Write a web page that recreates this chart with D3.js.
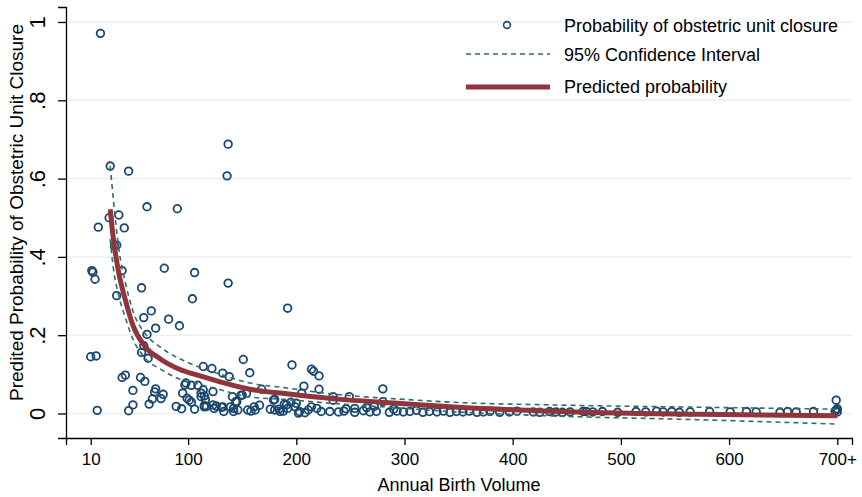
<!DOCTYPE html>
<html>
<head>
<meta charset="utf-8">
<script src="https://cdn.jsdelivr.net/npm/d3@7"></script>
<style>
    body { margin: 0; background: #fff; }
    text { font-family: Arial, "Liberation Sans", sans-serif; fill: #000; }
</style>
</head>
<body>
<div id="chart-area"></div>
<script>
// DATA
var xTicks = [10, 100, 200, 300, 400, 500, 600, 700];
var xTickLabels = ["10", "100", "200", "300", "400", "500", "600", "700+"];
var yTicks = [0, 0.2, 0.4, 0.6, 0.8, 1];
var yTickLabels = ["0", ".2", ".4", ".6", ".8", "1"];

// observed closures: birth volume / probability
var volume = [19, 28, 45, 62, 90, 136, 137, 27, 36, 17, 41, 34, 32, 11, 12, 14, 39, 78, 106, 137,
    57, 34, 104, 192, 66, 59, 82, 92, 70, 62, 59, 10, 15, 57, 63, 151, 196, 157, 214, 216,
    221, 114, 122, 132, 138, 39, 42, 56, 60, 98, 103, 109, 207, 221, 280, 49, 70, 69, 77, 75,
    67, 64, 49, 45, 16, 89, 94, 106, 95, 99, 103, 114, 115, 123, 117, 124, 133, 126, 132, 141,
    144, 150, 142, 155, 161, 166, 168, 176, 184, 180, 191, 195, 200, 202, 208, 188, 158, 112, 115, 97,
    101, 115, 131, 139, 145, 146, 149, 154, 162, 179, 180, 185, 189, 192, 199, 203, 211, 214, 219, 223,
    231, 234, 205, 249, 280, 234, 112, 116, 123, 142, 246, 254, 265, 272, 290,
    239, 244, 254, 262, 268, 274, 286, 293, 299, 305, 311, 317, 323, 330, 336, 342, 348, 354, 360, 367,
    373, 379, 388, 397, 404, 419, 425, 434, 440, 446, 453, 468,
    465, 474, 483, 497, 514, 523, 533, 539, 547, 554, 564, 582, 601, 616, 625, 647, 654, 662, 678,
    699, 699, 700, 700, 698];
var closure = [0.971, 0.632, 0.619, 0.528, 0.523, 0.607, 0.688, 0.500, 0.507, 0.476, 0.474, 0.430, 0.428, 0.365, 0.361, 0.343, 0.365, 0.371, 0.360, 0.333,
    0.321, 0.301, 0.293, 0.269, 0.262, 0.245, 0.241, 0.224, 0.218, 0.202, 0.173, 0.145, 0.147, 0.156, 0.141, 0.138, 0.124, 0.104, 0.113, 0.108,
    0.096, 0.120, 0.115, 0.103, 0.094, 0.092, 0.098, 0.092, 0.082, 0.078, 0.072, 0.072, 0.070, 0.062, 0.063, 0.059, 0.063, 0.055, 0.049, 0.038,
    0.037, 0.024, 0.022, 0.007, 0.008, 0.018, 0.012, 0.011, 0.052, 0.039, 0.029, 0.060, 0.045, 0.056, 0.018, 0.013, 0.005, 0.019, 0.017, 0.043,
    0.030, 0.047, 0.013, 0.009, 0.017, 0.021, 0.062, 0.011, 0.011, 0.036, 0.022, 0.029, 0.026, 0.001, 0.002, 0.006, 0.006, 0.052, 0.020, 0.073,
    0.034, 0.017, 0.016, 0.017, 0.030, 0.009, 0.047, 0.052, 0.009, 0.034, 0.009, 0.005, 0.024, 0.013, 0.017, 0.005, 0.009, 0.017, 0.013, 0.005,
    0.005, 0.034, 0.052, 0.043, 0.030, 0.043, 0.043, 0.036, 0.022, 0.005, 0.012, 0.013, 0.015, 0.018, 0.011,
    0.004, 0.006, 0.003, 0.007, 0.004, 0.005, 0.003, 0.006, 0.004, 0.005, 0.008, 0.003, 0.005, 0.004, 0.006, 0.003, 0.005, 0.004, 0.006, 0.003,
    0.004, 0.005, 0.003, 0.004, 0.006, 0.004, 0.003, 0.005, 0.004, 0.003, 0.004, 0.005,
    0.005, 0.004, 0.005, 0.003, 0.005, 0.004, 0.006, 0.004, 0.005, 0.003, 0.004, 0.005, 0.004, 0.005, 0.004, 0.003, 0.005, 0.004, 0.005,
    0.034, 0.009, 0.004, 0.012, 0.006];

// fitted curve and 95% CI
var fitVolume = [28, 31, 36, 42, 49, 60, 74, 92, 111, 128, 157, 189, 233, 300, 342, 434, 573, 700];
var predicted = [0.522, 0.445, 0.358, 0.290, 0.225, 0.172, 0.140, 0.113, 0.096, 0.082, 0.062, 0.051, 0.038, 0.025, 0.017, 0.006, -0.002, -0.006];
var ciUpper = [0.632, 0.545, 0.420, 0.335, 0.262, 0.205, 0.170, 0.140, 0.118, 0.102, 0.078, 0.066, 0.050, 0.036, 0.029, 0.022, 0.016, 0.011];
var ciLower = [0.445, 0.370, 0.300, 0.245, 0.190, 0.142, 0.114, 0.088, 0.074, 0.062, 0.042, 0.036, 0.026, 0.013, 0.005, -0.006, -0.016, -0.027];

var legendLabels = ["Probability of obstetric unit closure", "95% Confidence Interval", "Predicted probability"];

var navy = "#1a476f", maroon = "#90353b", teal = "#2f6e66", grid = "#eaf1f3";

// SIZES
var W = 862, H = 497;
var plot = { left: 66, right: 852, top: 7, bottom: 438 };

var svg = d3.select("#chart-area")
    .append("svg")
        .attr("width", W)
        .attr("height", H);

// SCALES
var x = d3.scaleLinear()
    .domain([-12.85, 713.6])
    .range([plot.left, plot.right]);

var y = d3.scaleLinear()
    .domain([-0.0626, 1.0383])
    .range([plot.bottom, plot.top]);

// GRIDLINES
svg.append("g").selectAll("line")
    .data(yTicks)
    .enter().append("line")
        .attr("x1", plot.left)
        .attr("x2", plot.right)
        .attr("y1", function(d) { return y(d); })
        .attr("y2", function(d) { return y(d); })
        .attr("stroke", grid)
        .attr("stroke-width", 1.5);

// X AXIS
var xAxisCall = d3.axisBottom(x)
    .tickValues(xTicks)
    .tickSizeOuter(0)
    .tickSize(7)
    .tickPadding(8)
    .tickFormat(function(d, i) { return xTickLabels[i]; });
var xAxis = svg.append("g")
    .attr("transform", "translate(0," + plot.bottom + ")")
    .call(xAxisCall);
xAxis.select(".domain").attr("stroke-width", 1.3);
xAxis.selectAll("line").attr("stroke-width", 1.3);
xAxis.selectAll("text")
    .attr("font-size", "17px")
    .attr("font-family", "Arial, 'Liberation Sans', sans-serif");

// Y AXIS
var yAxisCall = d3.axisLeft(y)
    .tickValues(yTicks)
    .tickSizeOuter(0)
    .tickSize(8)
    .tickFormat(function(d, i) { return yTickLabels[i]; });
var yAxis = svg.append("g")
    .attr("transform", "translate(" + plot.left + ",0)")
    .call(yAxisCall);
yAxis.select(".domain").attr("stroke-width", 1.3);
yAxis.selectAll("line").attr("stroke-width", 1.3);
yAxis.selectAll("text")
    .attr("font-size", "22px")
    .attr("font-family", "Arial, 'Liberation Sans', sans-serif")
    .attr("text-anchor", "middle")
    .attr("dy", 0)
    .attr("x", 0)
    .attr("transform", "translate(-21,0) rotate(-90)");

// LABELS
svg.append("text")
    .attr("x", (plot.left + plot.right) / 2)
    .attr("y", 491)
    .attr("font-size", "18px")
    .attr("text-anchor", "middle")
    .text("Annual Birth Volume");

svg.append("text")
    .attr("transform", "translate(23," + ((plot.top + plot.bottom) / 2 - 10) + ") rotate(-90)")
    .attr("font-size", "19px")
    .attr("text-anchor", "middle")
    .text("Predited Probability of Obstetric Unit Closure");

// POINTS
var points = volume.map(function(v, i) { return { v: v, p: closure[i] }; });
svg.append("g").selectAll("circle")
    .data(points)
    .enter().append("circle")
        .attr("cx", function(d) { return x(d.v); })
        .attr("cy", function(d) { return y(d.p); })
        .attr("r", 3.8)
        .attr("fill", "none")
        .attr("stroke", navy)
        .attr("stroke-width", 1.8);

// FIT LINES
var fit = fitVolume.map(function(v, i) {
    return { v: v, p: predicted[i], hi: ciUpper[i], lo: ciLower[i] };
});
function lineFor(key) {
    return d3.line()
        .x(function(d) { return x(d.v); })
        .y(function(d) { return y(d[key]); })
        .curve(d3.curveMonotoneX);
}
["hi", "lo"].forEach(function(k) {
    svg.append("path")
        .datum(fit)
        .attr("d", lineFor(k))
        .attr("fill", "none")
        .attr("stroke", teal)
        .attr("stroke-width", 1.6)
        .attr("stroke-dasharray", "5,4");
});
svg.append("path")
    .datum(fit)
    .attr("d", lineFor("p"))
    .attr("fill", "none")
    .attr("stroke", maroon)
    .attr("stroke-width", 5);

// LEGEND
var legend = svg.append("g");
legend.append("circle")
    .attr("cx", 507).attr("cy", 25).attr("r", 3.4)
    .attr("fill", "none").attr("stroke", navy).attr("stroke-width", 1.6);
legend.append("line")
    .attr("x1", 466).attr("x2", 550).attr("y1", 54).attr("y2", 54)
    .attr("stroke", teal).attr("stroke-width", 1.6).attr("stroke-dasharray", "5,4");
legend.append("line")
    .attr("x1", 466).attr("x2", 550).attr("y1", 87).attr("y2", 87)
    .attr("stroke", maroon).attr("stroke-width", 5);
legendLabels.forEach(function(t, i) {
    legend.append("text")
        .attr("x", 564)
        .attr("y", [32, 61, 93][i])
        .attr("font-size", "18px")
        .text(t);
});
</script>
</body>
</html>
